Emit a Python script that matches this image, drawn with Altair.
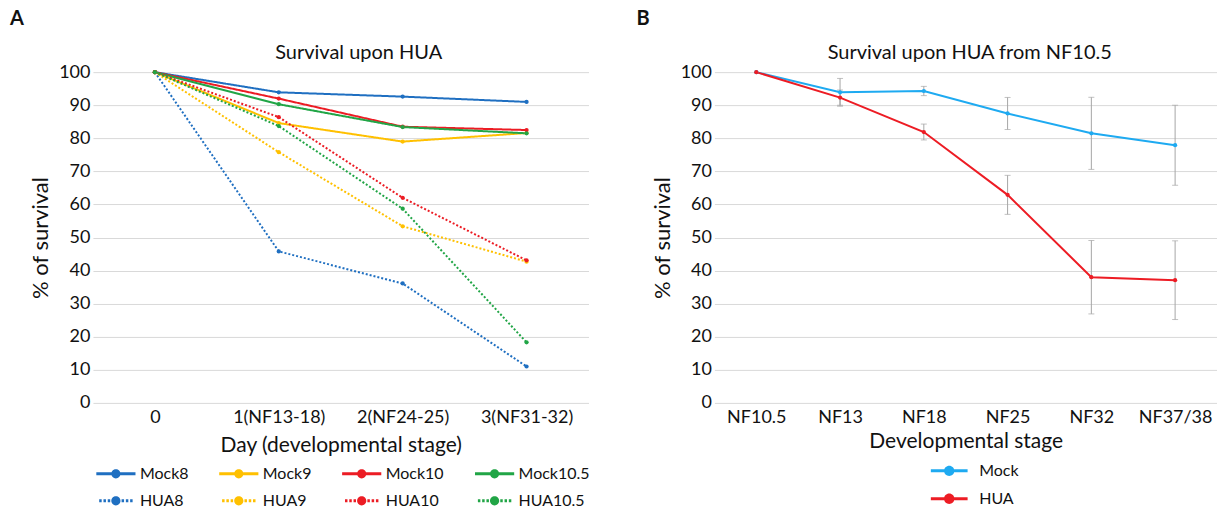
import altair as alt
import pandas as pd

FONT = "Lato"
INK = "#111111"
GRID = "#D9D9D9"
ERR = "#A6A6A6"

# ---------------- Panel A: survival upon HUA, by start stage ----------------
days = ["0", "1(NF13-18)", "2(NF24-25)", "3(NF31-32)"]
series_a = ["Mock8", "Mock9", "Mock10", "Mock10.5", "HUA8", "HUA9", "HUA10", "HUA10.5"]

mock8 = [100, 93.9, 92.6, 91.0]
mock9 = [100, 84.6, 79.0, 81.6]
mock10 = [100, 92.0, 83.5, 82.5]
mock10_5 = [100, 90.3, 83.4, 81.5]
hua8 = [100, 45.8, 36.1, 11.0]
hua9 = [100, 75.8, 53.4, 42.7]
hua10 = [100, 86.4, 62.0, 43.1]
hua10_5 = [100, 83.7, 58.7, 18.3]

colors_a = ["#1F6FC1", "#FFC000", "#EC1C24", "#21A546"] * 2
dashes_a = [[1, 0]] * 4 + [[2, 2]] * 4

rows_a = []
for name, vals in zip(series_a, [mock8, mock9, mock10, mock10_5, hua8, hua9, hua10, hua10_5]):
    for d, v in zip(days, vals):
        rows_a.append({"day": d, "value": v, "series": name})
df_a = pd.DataFrame(rows_a)

# ---------------- Panel B: survival upon HUA from NF10.5 ----------------
stages = ["NF10.5", "NF13", "NF18", "NF25", "NF32", "NF37/38"]
series_b = ["Mock", "HUA"]
mock_b = [100, 93.9, 94.3, 87.5, 81.5, 77.9]
mock_b_err = [0, 4.2, 1.4, 4.85, 10.9, 12.1]
hua_b = [100, 92.3, 81.9, 62.9, 38.0, 37.1]
hua_b_err = [0, 2.3, 2.4, 5.9, 11.1, 11.9]
colors_b = ["#1EAAF1", "#ED1C24"]

rows_b = []
for name, vals, errs in [("Mock", mock_b, mock_b_err), ("HUA", hua_b, hua_b_err)]:
    for s, v, e in zip(stages, vals, errs):
        rows_b.append({"stage": s, "value": v, "err": e, "lo": v - e, "hi": v + e, "series": name})
df_b = pd.DataFrame(rows_b)


# ---- legend glyphs (filled paths; 1 unit = sqrt(symbolSize)/2 px) ----
def _circle(r):
    return f"M{-r},0A{r},{r},0,1,1,{r},0A{r},{r},0,1,1,{-r},0Z"


def _rect(x0, x1, h):
    return f"M{x0:.3f},{-h}H{x1:.3f}V{h}H{x0:.3f}Z"


def solid_glyph(half_len, radius, half_thick):
    return _rect(-half_len, half_len, half_thick) + _circle(radius)


def dotted_glyph(half_len, radius, half_thick, dot, gap):
    parts = []
    x = radius + gap * 0.6
    while x + dot <= half_len + 1e-6:
        parts.append(_rect(x, x + dot, half_thick))
        parts.append(_rect(-x - dot, -x, half_thick))
        x += dot + gap
    return "".join(parts) + _circle(radius)


glyph_solid_a = solid_glyph(4.9, 1.15, 0.38)
glyph_dot_a = dotted_glyph(4.9, 1.15, 0.38, 0.62, 0.45)
glyph_solid_b = solid_glyph(4.6, 1.3, 0.38)
shapes_a = [glyph_solid_a] * 4 + [glyph_dot_a] * 4


def y_axis():
    return alt.Axis(
        values=list(range(0, 101, 10)), title="% of survival",
        titleFontSize=22, titleFontWeight="normal", titleColor=INK, titlePadding=6,
        labelFontSize=18, labelColor=INK, labelPadding=3,
        grid=True, gridColor=GRID, gridWidth=1, ticks=False, domain=False,
    )


def x_axis(title, title_pad):
    return alt.Axis(
        title=title, labelAngle=0, labelFontSize=18, labelColor=INK, labelPadding=6,
        titleFontSize=21, titleFontWeight="normal", titleColor=INK, titlePadding=title_pad,
        ticks=False, domain=False, grid=False,
    )


def panel_letter(letter, dx, dy):
    return alt.Chart(pd.DataFrame({"label": [letter]})).mark_text(
        fontSize=20, fontWeight="bold", color=INK, align="left", baseline="middle", font=FONT
    ).encode(text="label:N", x=alt.value(dx), y=alt.value(dy))


def panel_title(text, dx):
    # the title sits just above the plot, below the panel letter
    return alt.TitleParams(text, fontSize=20, fontWeight="normal", color=INK, font=FONT,
                           offset=-54, dx=dx, anchor="middle", frame="group")


# ---- Panel A ----
leg_a = alt.Legend(
    title=None, orient="none", legendX=15, legendY=394, columns=4, direction="horizontal",
    gridAlign="each", columnPadding=30, rowPadding=11, padding=0,
    symbolSize=64, symbolStrokeWidth=0, symbolOpacity=1,
    labelFont=FONT, labelFontSize=16, labelColor=INK, labelOffset=16,
)

x_a = alt.X("day:N", sort=days, scale=alt.Scale(type="point", padding=0.5),
            axis=x_axis("Day (developmental stage)", 8))
y_a = alt.Y("value:Q", scale=alt.Scale(domain=[0, 100], nice=False), axis=y_axis())
color_scale_a = alt.Scale(domain=series_a, range=colors_a)

key_a = alt.Chart(df_a).mark_point(filled=True, opacity=0).encode(
    x=x_a, y=y_a,
    color=alt.Color("series:N", scale=color_scale_a, legend=leg_a),
    shape=alt.Shape("series:N", scale=alt.Scale(domain=series_a, range=shapes_a), legend=leg_a),
)
lines_a = alt.Chart(df_a).mark_line(strokeWidth=2).encode(
    x=x_a, y=y_a,
    color=alt.Color("series:N", scale=color_scale_a, legend=None),
    strokeDash=alt.StrokeDash("series:N", scale=alt.Scale(domain=series_a, range=dashes_a), legend=None),
)
dots_a = alt.Chart(df_a).mark_circle(size=18, opacity=1).encode(
    x=x_a, y=y_a,
    color=alt.Color("series:N", scale=color_scale_a, legend=None),
)

panel_a = alt.layer(key_a, lines_a, dots_a, panel_letter("A", -83, -52.7)).properties(
    width=496, height=331, title=panel_title("Survival upon HUA", 18),
)

# ---- Panel B ----
leg_b = alt.Legend(
    title=None, orient="none", legendX=227, legendY=391, direction="vertical",
    rowPadding=12, padding=0,
    symbolType=glyph_solid_b, symbolSize=64, symbolStrokeWidth=0, symbolOpacity=1,
    labelFont=FONT, labelFontSize=16, labelColor=INK, labelOffset=22,
)

x_b = alt.X("stage:N", sort=stages, scale=alt.Scale(type="point", padding=0.5),
            axis=x_axis("Developmental stage", 4))
y_scale_b = alt.Scale(domain=[0, 100], nice=False)
y_b = alt.Y("value:Q", scale=y_scale_b, axis=y_axis())
y_lo = alt.Y("lo:Q", scale=y_scale_b, axis=y_axis())
y_hi = alt.Y("hi:Q", scale=y_scale_b, axis=y_axis())
color_scale_b = alt.Scale(domain=series_b, range=colors_b)

key_b = alt.Chart(df_b).mark_point(filled=True, opacity=0).encode(
    x=x_b, y=y_b,
    color=alt.Color("series:N", scale=color_scale_b, legend=leg_b),
)
bars_src = alt.Chart(df_b).transform_filter("datum.err > 0")
err_rules = bars_src.mark_rule(color=ERR, strokeWidth=1).encode(x=x_b, y=y_lo, y2="hi:Q")
err_caps_lo = bars_src.mark_tick(color=ERR, size=6, thickness=1).encode(x=x_b, y=y_lo)
err_caps_hi = bars_src.mark_tick(color=ERR, size=6, thickness=1).encode(x=x_b, y=y_hi)

lines_b = alt.Chart(df_b).mark_line(strokeWidth=2).encode(
    x=x_b, y=y_b,
    color=alt.Color("series:N", scale=color_scale_b, legend=None),
)
dots_b = alt.Chart(df_b).mark_circle(size=18, opacity=1).encode(
    x=x_b, y=y_b,
    color=alt.Color("series:N", scale=color_scale_b, legend=None),
)

panel_b = alt.layer(key_b, err_rules, err_caps_lo, err_caps_hi, lines_b, dots_b,
                    panel_letter("B", -78, -52.7)).properties(
    width=503, height=331, title=panel_title("Survival upon HUA from NF10.5", 4),
)

chart = (
    alt.hconcat(panel_a, panel_b, spacing=46)
    .resolve_scale(color="independent", shape="independent", x="independent")
    .resolve_legend(color="independent", shape="independent")
    .properties(padding={"left": 10, "top": 9, "right": 0, "bottom": 0}, background="white")
    .configure(font=FONT)
    .configure_view(stroke=None)
)

chart.save("out.html", embed_options={"renderer": "svg", "actions": False})
